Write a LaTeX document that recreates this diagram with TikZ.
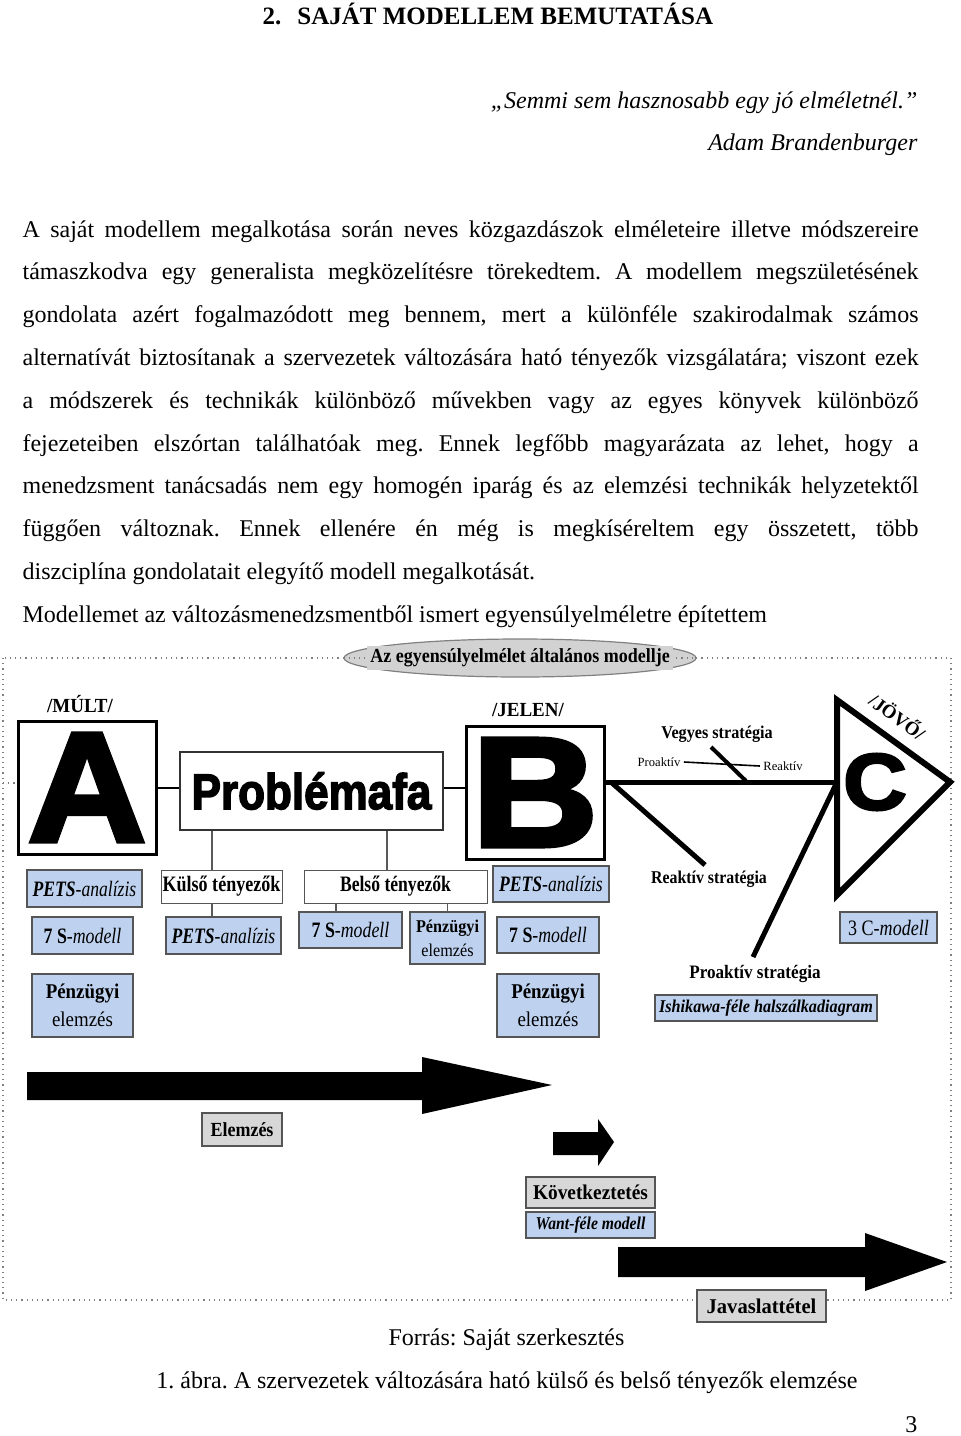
\documentclass[tikz,border=0pt]{standalone}
\usepackage{graphicx}
\usepackage{fontspec}
\setmainfont{Liberation Serif}
\setsansfont{Liberation Sans}
\newfontfamily\heavysans{Liberation Sans}[BoldFeatures={FakeBold=3}]
\usepackage{tikz}
\usetikzlibrary{shapes.geometric}

\definecolor{boxblue}{RGB}{190,210,240}
\definecolor{boxgrey}{RGB}{215,215,215}
\definecolor{boxedge}{RGB}{85,85,85}
\definecolor{ellgrey}{RGB}{210,210,210}

\newcommand{\hsq}[2][0.85]{\scalebox{#1}[1]{#2}}
\newcommand{\jline}[1]{\hbox to 448pt{#1}}

\begin{document}
\frenchspacing
\begin{tikzpicture}[x=0.5pt,y=-0.5pt,semithick]
	\tikzstyle{every node}=[inner sep=0pt]
	\tikzstyle{bigbox}=[draw=black,line width=1.5pt,fill=white,minimum width=69pt,minimum height=66.5pt,font=\heavysans\bfseries\fontsize{78}{78}\selectfont]
	\tikzstyle{bluebox}=[draw=boxedge,fill=boxblue,line width=0.6pt,align=center,font=\fontsize{11}{14}\selectfont]
	\tikzstyle{greybox}=[draw=boxedge,fill=boxgrey,line width=0.8pt,font=\bfseries\fontsize{10.5}{12}\selectfont]
	\tikzstyle{whitebox}=[draw=boxedge,fill=white,line width=0.5pt,font=\bfseries\fontsize{11}{12}\selectfont]
	\tikzstyle{tag}=[font=\bfseries\fontsize{9}{11}\selectfont]
	\tikzstyle{frame}=[gray,dotted,line width=0.6pt]
	\tikzstyle{stem}=[draw=gray!70!black,line width=0.6pt]
	\tikzstyle{bone}=[line width=2.5pt]
	\useasboundingbox (0,0) rectangle (960,1436);

	\node[anchor=base west,font=\bfseries\fontsize{12.5}{15}\selectfont] (title) at (262,24) {2.\hspace{8pt}SAJÁT MODELLEM BEMUTATÁSA};
	\node[anchor=base east,font=\itshape\fontsize{12}{14}\selectfont] (quote) at (918,108) {„Semmi sem hasznosabb egy jó elméletnél.”};
	\node[anchor=base east,font=\itshape\fontsize{12}{14}\selectfont] (author) at (918,150) {Adam Brandenburger};
	\node[anchor=base west,font=\fontsize{12}{21.4}\selectfont] (para) at (22,237) {\vtop{
		\jline{A saját modellem megalkotása során neves közgazdászok elméleteire illetve módszereire}
		\jline{támaszkodva egy generalista megközelítésre törekedtem. A modellem megszületésének}
		\jline{gondolata azért fogalmazódott meg bennem, mert a különféle szakirodalmak számos}
		\jline{alternatívát biztosítanak a szervezetek változására ható tényezők vizsgálatára; viszont ezek}
		\jline{a módszerek és technikák különböző művekben vagy az egyes könyvek különböző}
		\jline{fejezeteiben elszórtan találhatóak meg. Ennek legfőbb magyarázata az lehet, hogy a}
		\jline{menedzsment tanácsadás nem egy homogén iparág és az elemzési technikák helyzetektől}
		\jline{függően változnak. Ennek ellenére én még is megkíséreltem egy összetett, több}
		\hbox{diszciplína gondolatait elegyítő modell megalkotását.}
		\hbox{Modellemet az változásmenedzsmentből ismert egyensúlyelméletre építettem}}};

	\draw[frame] (3,658) rectangle (951,1300);
	\node[ellipse,draw=gray,fill=ellgrey,line width=0.6pt,minimum width=176pt,minimum height=19pt] (ell) at (520,658) {};
	\draw[frame] (ell.west) -- (ell.east);
	\node[fill=ellgrey,inner sep=1.5pt,font=\bfseries\fontsize{10}{12}\selectfont] (ellText) at (520,658) {\hsq[0.9]{Az egyensúlyelmélet általános modellje}};

	\node[bigbox] (boxA) at (87,787.5) {\hsq[1.05]{A}};
	\node[tag,font=\bfseries\fontsize{10}{12}\selectfont] (mult) at (80,704) {\hsq[0.95]{/MÚLT/}};
	\node[draw=black!80,line width=0.6pt,minimum width=131.5pt,minimum height=39pt,font=\heavysans\bfseries\fontsize{25}{25}\selectfont] (prob) at (311.5,791) {\hsq[0.88]{Problémafa}};
	\node[bigbox] (boxB) at (535,792.5) {\hsq[1.12]{B}};
	\node[tag,font=\bfseries\fontsize{10}{12}\selectfont] (jelen) at (528,710) {\hsq[0.95]{/JELEN/}};
	\coordinate (stub) at (3,783);
	\draw[frame] (stub) -- (stub -| boxA.west);
	\draw[line width=1pt] (boxA.east) -- (boxA.east -| prob.west);
	\draw[line width=1pt] (prob.east |- boxA.east) -- (boxA.east -| boxB.west);

	\node[whitebox,minimum width=60.5pt,minimum height=16.5pt] (kulso) at (221.5,886.5) {\hsq[0.82]{Külső tényezők}};
	\node[whitebox,minimum width=91.5pt,minimum height=16.5pt] (belso) at (395.5,886.5) {\hsq[0.8]{Belső tényezők}};
	\coordinate (kTop) at ([xshift=-4.75pt]kulso.north);
	\coordinate (bTop) at ([xshift=-4.25pt]belso.north);
	\draw[stem] (kTop) -- (kTop |- prob.south);
	\draw[stem] (bTop) -- (bTop |- prob.south);

	\node[bluebox,minimum width=57.5pt,minimum height=18.5pt] (petsA) at (84.5,888.5) {\hsq[0.8]{\textbf{\textit{PETS}}\textit{-analízis}}};
	\node[bluebox,minimum width=50.5pt,minimum height=18.5pt] (sevenA) at (82.5,935.5) {\hsq[0.81]{\textbf{7 S}\textit{-modell}}};
	\node[bluebox,minimum width=50.5pt,minimum height=31.5pt,font=\fontsize{10.5}{14}\selectfont] (penzA) at (82.5,1005.5) {\hsq[0.9]{\textbf{Pénzügyi}}\\\hsq[0.9]{elemzés}};

	\node[bluebox,minimum width=57.5pt,minimum height=18.5pt] (petsK) at (223.5,935.5) {\hsq[0.8]{\textbf{\textit{PETS}}\textit{-analízis}}};
	\node[bluebox,minimum width=51.5pt,minimum height=18pt] (sevenI) at (350.5,930) {\hsq[0.81]{\textbf{7 S}\textit{-modell}}};
	\node[bluebox,minimum width=37.5pt,minimum height=26pt,font=\fontsize{9}{12}\selectfont] (penzI) at (447.5,938) {\hsq[0.9]{\textbf{Pénzügyi}}\\\hsq[0.9]{elemzés}};
	\coordinate (kBot) at ([xshift=-4.75pt]kulso.south);
	\coordinate (sTop) at ([xshift=-7.25pt]sevenI.north);
	\draw[stem] (kBot) -- (kBot |- petsK.north);
	\draw[stem] (sTop) -- (sTop |- belso.south);
	\draw[stem] (penzI.north) -- (penzI.north |- belso.south);

	\node[bluebox,minimum width=58pt,minimum height=18pt] (petsB) at (551,884) {\hsq[0.8]{\textbf{\textit{PETS}}\textit{-analízis}}};
	\node[bluebox,minimum width=51pt,minimum height=18pt] (sevenB) at (548,935) {\hsq[0.81]{\textbf{7 S}\textit{-modell}}};
	\node[bluebox,minimum width=51pt,minimum height=31.5pt,font=\fontsize{10.5}{14}\selectfont] (penzB) at (548,1005.5) {\hsq[0.9]{\textbf{Pénzügyi}}\\\hsq[0.9]{elemzés}};

	\coordinate (cTop) at (837,700);
	\coordinate (cTip) at (950,782);
	\coordinate (cBot) at (837,895);
	\coordinate (cMid) at (837,782);
	\draw[line width=3pt,line join=miter] (cTop) -- (cTip) -- (cBot) -- cycle;
	\node[font=\heavysans\bfseries\fontsize{40}{40}\selectfont] (letC) at (875,782) {\hsq[1.1]{C}};
	\node[tag,rotate=-36,font=\bfseries\fontsize{9.5}{11}\selectfont] (jovo) at (898,716) {/JÖVŐ/};
	\draw[bone] (boxB.east |- cMid) -- (cMid);

	\coordinate (rRoot) at (612,783);
	\coordinate (rEnd) at (705,865);
	\coordinate (pEnd) at (753,957);
	\coordinate (vTop) at (711,747);
	\coordinate (vFoot) at (746,781);
	\draw[bone] (rRoot) -- (rEnd);
	\draw[bone] (cMid) -- (pEnd);
	\draw[line width=2pt] (vTop) -- (vFoot);
	\node[tag,font=\bfseries\fontsize{9}{11}\selectfont] (vegyes) at (717,734) {\hsq[0.9]{Vegyes stratégia}};
	\node[inner sep=1.5pt,font=\fontsize{6.3}{8}\selectfont] (proS) at (659,762) {Proaktív};
	\node[inner sep=1.5pt,font=\fontsize{6.3}{8}\selectfont] (reaS) at (783,766) {Reaktív};
	\draw[line width=0.8pt] (proS.east) -- (reaS.west);
	\node[tag,font=\bfseries\fontsize{9}{11}\selectfont] (reakt) at (709,879) {\hsq[0.88]{Reaktív stratégia}};
	\node[tag,font=\bfseries\fontsize{9.5}{11}\selectfont] (proakt) at (755,974) {\hsq[0.9]{Proaktív stratégia}};

	\node[bluebox,minimum width=48.5pt,minimum height=15.5pt] (threeC) at (888.5,927.5) {\hsq[0.82]{3 C\textit{-modell}}};
	\node[bluebox,minimum width=111pt,minimum height=13pt,font=\bfseries\itshape\fontsize{9}{11}\selectfont] (ishi) at (766,1008) {\hsq[0.9]{Ishikawa-féle halszálkadiagram}};

	\fill (27,1072) -- (422,1072) -- (422,1057) -- (552,1085) -- (422,1114) -- (422,1100) -- (27,1100) -- cycle;
	\fill (553,1132) -- (598,1132) -- (598,1119) -- (614,1142) -- (598,1166) -- (598,1155) -- (553,1155) -- cycle;
	\fill (618,1247) -- (865,1247) -- (865,1233) -- (947,1262) -- (865,1291) -- (865,1277) -- (618,1277) -- cycle;

	\node[greybox,minimum width=40pt,minimum height=16.5pt,font=\bfseries\fontsize{10}{12}\selectfont] (elemzes) at (242,1129.5) {\hsq[0.9]{Elemzés}};
	\node[greybox,minimum width=64.5pt,minimum height=15.5pt] (kovet) at (590.5,1192.5) {\hsq[0.92]{Következtetés}};
	\node[bluebox,minimum width=64.5pt,minimum height=13pt,font=\bfseries\itshape\fontsize{9}{11}\selectfont] (want) at (590.5,1225) {\hsq[0.87]{Want-féle modell}};
	\node[greybox,minimum width=64.5pt,minimum height=16pt] (javas) at (761.5,1306) {\hsq[0.98]{Javaslattétel}};

	\node[anchor=base,font=\fontsize{12}{14}\selectfont] (forras) at (506.5,1345) {Forrás: Saját szerkesztés};
	\node[anchor=base,font=\fontsize{12}{14}\selectfont] (caption) at (507,1388) {1. ábra. A szervezetek változására ható külső és belső tényezők elemzése};
	\node[anchor=base east,font=\fontsize{12}{14}\selectfont] (page) at (918,1432) {3};
\end{tikzpicture}
\end{document}
